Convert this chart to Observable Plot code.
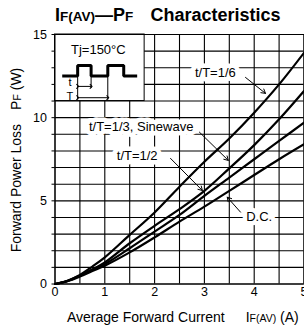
<!DOCTYPE html>
<html><head><meta charset="utf-8">
<script src="https://cdn.jsdelivr.net/npm/d3@7"></script>
<script src="https://cdn.jsdelivr.net/npm/@observablehq/plot@0.6"></script>
<style>body{margin:0;background:#fff;} svg{font-family:"Liberation Sans",Arial,Helvetica,sans-serif;}</style>
</head><body><div id="chart"></div>
<script>
// Average forward current (A)
const current = [0, 0.25, 0.5, 0.75, 1, 1.5, 2, 2.5, 3, 3.5, 4, 4.5, 5];
// Forward power loss (W) per condition
const lossDuty16 = [0, 0.2, 0.55, 1.05, 1.6, 2.95, 4.3, 5.85, 7.35, 8.75, 10.3, 12.0, 13.9];
const lossDuty13 = [0, 0.18, 0.5, 0.88, 1.3, 2.45, 3.5, 4.5, 5.6, 6.95, 8.35, 9.9, 11.6];
const lossDuty12 = [0, 0.18, 0.5, 0.85, 1.2, 2.15, 3.15, 4.15, 5.3, 6.4, 7.5, 8.6, 9.7];
const lossDC     = [0, 0.17, 0.45, 0.78, 1.1, 1.9, 2.8, 3.75, 4.65, 5.6, 6.55, 7.5, 8.4];
const seriesNames = ["t/T=1/6", "t/T=1/3", "t/T=1/2", "D.C."];
const seriesValues = [lossDuty16, lossDuty13, lossDuty12, lossDC];

const xGrid = [0, 0.5, 1, 1.5, 2, 2.5, 3, 3.5, 4, 4.5, 5];
const yGrid = [0,1,2,3,4,5,6,7,8,9,10,11,12,13,14,15];
const xTickLabels = [0, 1, 2, 3, 4, 5];
const yTickLabels = [0, 5, 10, 15];

// curve labels and arrows (data units)
const labelText = ["t/T=1/6", "t/T=1/3, Sinewave", "t/T=1/2", "D.C."];
const labelX = [3.22, 1.73, 1.65, 4.10];
const labelY = [12.72, 9.43, 7.73, 4.06];
const arrowX1 = [3.825, 2.90, 2.32, 3.725];
const arrowY1 = [12.42, 9.13, 7.55, 4.32];
const arrowX2 = [4.227, 3.48, 2.96, 3.458];
const arrowY2 = [11.46, 7.43, 5.62, 5.22];

// inset schematic (data units)
const insetBox = [{x1: 0, x2: 1.8, y1: 11.0, y2: 15}];
const waveX = [0.145, 0.455, 0.455, 0.725, 0.725, 1.06, 1.06, 1.38, 1.38, 1.65];
const waveY = [12.5, 12.5, 13.14, 13.14, 12.5, 12.5, 13.14, 13.14, 12.5, 12.5];
const edgeX = [0.455, 0.725, 1.06];
const edgeYBottom = [11.05, 11.75, 11.05];
const dimStart = [0.455, 0.455];
const dimEnd = [0.725, 1.06];
const dimY = [11.88, 11.2];
const dimText = ["t", "T"];
const dimTextX = [0.3, 0.3];
const dimTextY = [12.1, 11.24];
const tjText = "Tj=150°C";
const tjPos = {x: 0.87, y: 14.05};

const curveData = seriesNames.flatMap((name, s) => current.map((x, i) => ({x, y: seriesValues[s][i], name})));
const labels = labelText.map((t, i) => ({t, x: labelX[i], y: labelY[i]}));
const arrows = arrowX1.map((x1, i) => ({x1, y1: arrowY1[i], x2: arrowX2[i], y2: arrowY2[i]}));
const wave = waveX.map((x, i) => ({x, y: waveY[i]}));
const edges = edgeX.map((x, i) => ({x, y1: edgeYBottom[i], y2: 12.5}));
const dims = dimStart.map((x1, i) => ({x1, x2: dimEnd[i], y: dimY[i]}));
const dimLabels = dimText.map((t, i) => ({t, x: dimTextX[i], y: dimTextY[i]}));

const font = '"Liberation Sans",Arial,Helvetica,sans-serif';
const chart = Plot.plot({
  width: 304, height: 332,
  marginLeft: 54.5, marginRight: 0.5, marginTop: 34, marginBottom: 48.5,
  style: {fontFamily: font, fontSize: "12px", background: "white", color: "black"},
  x: {domain: [0, 5]},
  y: {domain: [0, 15]},
  marks: [
    Plot.ruleX(xGrid, {stroke: "black", strokeWidth: 1.1}),
    Plot.ruleY(yGrid, {stroke: "black", strokeWidth: 1.1}),
    Plot.axisY({ticks: yGrid, tickSize: 3, tickFormat: () => "", label: null}),
    Plot.axisY({ticks: yTickLabels, tickSize: 0, tickPadding: 8, fontSize: 12.5, tickFormat: d3.format("d"), label: null}),
    Plot.axisX({ticks: xTickLabels, tickSize: 0, tickPadding: 3, fontSize: 12.5, tickFormat: d3.format("d"), label: null}),
    Plot.line(curveData, {x: "x", y: "y", z: "name", stroke: "black", strokeWidth: 2.2, curve: "catmull-rom"}),
    Plot.rect(insetBox, {x1: "x1", x2: "x2", y1: "y1", y2: "y2", fill: "white", stroke: "black", strokeWidth: 1}),
    Plot.line(wave, {x: "x", y: "y", stroke: "black", strokeWidth: 3, strokeLinejoin: "miter", strokeLinecap: "butt"}),
    Plot.ruleX(edges, {x: "x", y1: "y1", y2: "y2", stroke: "black", strokeWidth: 1}),
    Plot.link(dims, {x1: "x1", x2: "x2", y1: "y", y2: "y", stroke: "black", strokeWidth: 1, markerStart: "arrow", markerEnd: "arrow"}),
    Plot.text(dimLabels, {x: "x", y: "y", text: "t", fontSize: 11, lineHeight: 0.9, fill: "black"}),
    Plot.text([tjPos], {x: "x", y: "y", text: () => tjText, fontSize: 13, fill: "black"}),
    Plot.frame({stroke: "black", strokeWidth: 1}),
    Plot.arrow(arrows, {x1: "x1", y1: "y1", x2: "x2", y2: "y2", stroke: "black", strokeWidth: 1, headLength: 7, bend: 0}),
    Plot.text(labels, {x: "x", y: "y", text: "t", fontSize: 13, fill: "black", stroke: "white", strokeWidth: 9})
  ]
});

const svg = d3.select(chart);
// title
const title = svg.append("text").attr("x", 55).attr("y", 21)
  .style("font-family", font).style("font-weight", "bold").style("text-anchor", "start").attr("fill", "black");
title.append("tspan").style("font-size", "18px").text("I");
title.append("tspan").style("font-size", "13.5px").text("F(AV)");
title.append("tspan").style("font-size", "18px").text("—P");
title.append("tspan").style("font-size", "13.5px").text("F");
title.append("tspan").style("font-size", "18px").attr("x", 150.5).text("Characteristics");
// y label
const yl = svg.append("text").attr("transform", "translate(21,160) rotate(-90)")
  .style("text-anchor", "middle").style("font-family", font).style("font-size", "14px").attr("fill", "black");
yl.append("tspan").text("Forward Power Loss\u2002\u2002P");
yl.append("tspan").style("font-size", "10.5px").text("F");
yl.append("tspan").text(" (W)");
// x label
const xl = svg.append("text").attr("x", 67).attr("y", 322)
  .style("text-anchor", "start").style("font-family", font).style("font-size", "14px").attr("fill", "black");
xl.append("tspan").text("Average Forward Current\u2003\u2002I");
xl.append("tspan").style("font-size", "10.5px").text("F(AV)");
xl.append("tspan").text(" (A)");

document.getElementById("chart").appendChild(chart);
</script></body></html>
